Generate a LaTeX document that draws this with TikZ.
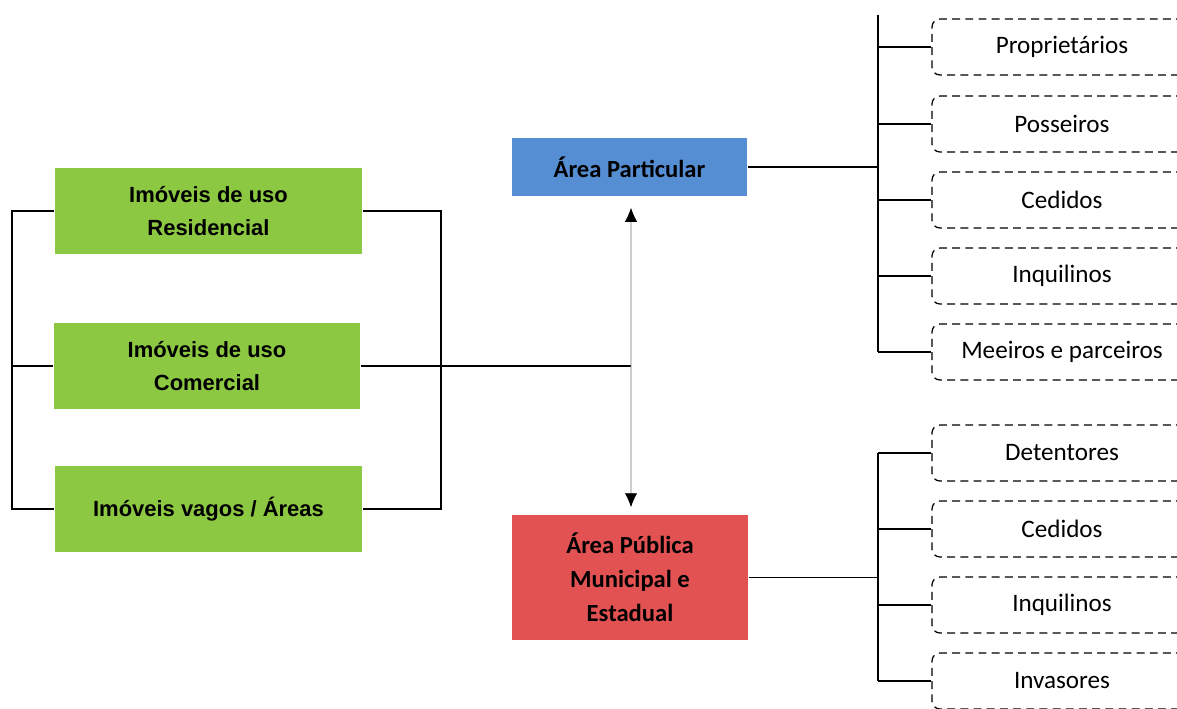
\documentclass[tikz,border=0pt]{standalone}
\usepackage{fontspec}
\setmainfont{Carlito}
\newfontfamily\arialfont{Liberation Sans}
\usetikzlibrary{arrows.meta}
\definecolor{boxgreen}{RGB}{141,200,66}
\definecolor{boxblue}{RGB}{86,142,212}
\definecolor{boxred}{RGB}{226,82,82}

\begin{document}
\begin{tikzpicture}[x=0.02cm,y=-0.02cm,line width=0.8pt,
    greenbox/.style={fill=boxgreen, minimum width=6.14cm, minimum height=1.72cm,
      align=center, font=\arialfont\bfseries\fontsize{12.5}{18.7}\selectfont, inner sep=0pt},
    areabox/.style={minimum width=4.72cm, align=center, inner sep=0pt,
      font=\bfseries\fontsize{14}{19.3}\selectfont},
    dashbox/.style={draw, dash pattern=on 4.5pt off 3pt, line width=0.7pt, rounded corners=4.5pt,
      minimum width=5.2cm, minimum height=1.12cm, font=\fontsize{14.3}{16}\selectfont, inner sep=0pt},
    arr/.style={black!55, line width=0.5pt, {Latex[length=8pt,width=7pt,black]}-{Latex[length=8pt,width=7pt,black]}}]
  \useasboundingbox (0,0) rectangle (1177,708);
  \clip (0,0) rectangle (1177,708);

  % left side
  \node[greenbox] (res) at (208.5,211) {Imóveis de uso\\Residencial};
  \node[greenbox] (com) at (207,366)   {Imóveis de uso\\Comercial};
  \node[greenbox] (vag) at (208.5,509) {Imóveis vagos / Áreas};
  \coordinate (lbus) at (12,0);
  \coordinate (rbus) at (441,0);
  \coordinate (mid)  at (631,366);
  \draw (res.west) -- (res.west -| lbus) -- (vag.west -| lbus) -- (vag.west);
  \draw (com.west) -- (com.west -| lbus);
  \draw (res.east) -- (res.east -| rbus) -- (vag.east -| rbus) -- (vag.east);
  \draw (com.east) -- (mid);

  % middle
  \node[areabox, fill=boxblue, minimum height=1.16cm] (part) at (629.5,167) {Área Particular};
  \node[areabox, fill=boxred, minimum height=2.5cm] (pub) at (630,577.5)
    {Área Pública\\Municipal e\\Estadual};
  \draw[arr] ([xshift=0.03cm,yshift=-0.22cm]part.south) -- ([xshift=0.02cm,yshift=0.14cm]pub.north);

  % right side, top
  \coordinate (ptop) at (878,15);
  \node[dashbox] (p1) at (1062,47)  {Proprietários};
  \node[dashbox] (p2) at (1062,124) {Posseiros};
  \node[dashbox] (p3) at (1062,200) {Cedidos};
  \node[dashbox] (p4) at (1062,276) {Inquilinos};
  \node[dashbox] (p5) at (1062,352) {Meeiros e parceiros};
  \draw (part.east) -- (part.east -| ptop);
  \draw (ptop) -- (ptop |- p5.west);
  \foreach \i in {1,...,5}
    \draw (ptop |- p\i.west) -- (p\i.west);

  % right side, bottom
  \coordinate (qbus) at (878,0);
  \node[dashbox] (q1) at (1062,453) {Detentores};
  \node[dashbox] (q2) at (1062,529) {Cedidos};
  \node[dashbox] (q3) at (1062,605) {Inquilinos};
  \node[dashbox] (q4) at (1062,681) {Invasores};
  \draw (pub.east) -- (pub.east -| qbus);
  \draw (q1.west -| qbus) -- (q4.west -| qbus);
  \foreach \i in {1,...,4}
    \draw (q\i.west -| qbus) -- (q\i.west);
\end{tikzpicture}
\end{document}
